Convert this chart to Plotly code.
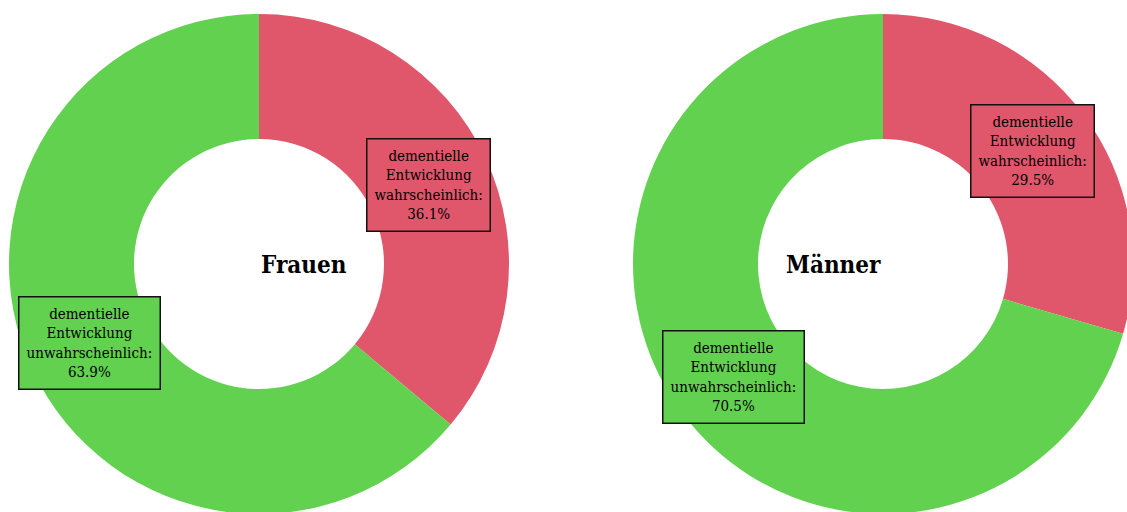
import math
import plotly.graph_objects as go

groups = ["Frauen", "Männer"]
labels = ["dementielle<br>Entwicklung<br>wahrscheinlich:", "dementielle<br>Entwicklung<br>unwahrscheinlich:"]
frauen_values = [36.1, 63.9]
maenner_values = [29.5, 70.5]
colors = ["#E0566B", "#62D150"]

W, H = 1140, 528
R = 250
centers_px = [(259, 264), (883, 264)]
FONT = "DejaVu Serif Condensed"

fig = go.Figure()
annotations = []
for (cx, cy), name, vals in zip(centers_px, groups, [frauen_values, maenner_values]):
    dom_x = [(cx - R) / W, (cx + R) / W]
    fig.add_trace(go.Pie(
        values=vals, labels=[l.replace("<br>", " ") for l in labels],
        hole=0.5, sort=False, direction="clockwise", rotation=0,
        marker=dict(colors=colors, line=dict(width=0)),
        textinfo="none", showlegend=False,
        domain=dict(x=dom_x, y=[0, 1]),
    ))
    annotations.append(dict(
        x=cx / W, y=1 - cy / H, xref="paper", yref="paper", text=f"<b>{name}</b>",
        showarrow=False, font=dict(family=FONT, size=24, color="#000"),
    ))
    total = sum(vals)
    cum = 0
    for lab, v, col in zip(labels, vals, colors):
        mid = (cum + v / 2) / total * 2 * math.pi
        cum += v
        px = cx + 0.75 * R * math.sin(mid)
        py = cy - 0.75 * R * math.cos(mid)
        annotations.append(dict(
            x=px / W, y=1 - py / H, xref="paper", yref="paper",
            text=f"{lab}<br>{v:.1f}%", showarrow=False,
            font=dict(family=FONT, size=15, color="#000"),
            bgcolor=col, bordercolor="#111", borderwidth=1.5, borderpad=7,
            xanchor="center", yanchor="middle",
        ))

fig.update_layout(
    width=W, height=H, margin=dict(l=0, r=0, t=0, b=0),
    paper_bgcolor="white", plot_bgcolor="white",
    annotations=annotations,
)

fig.write_html("out.html", post_script="document.body.style.margin='0';document.body.style.overflow='hidden';document.documentElement.style.overflow='hidden';")
